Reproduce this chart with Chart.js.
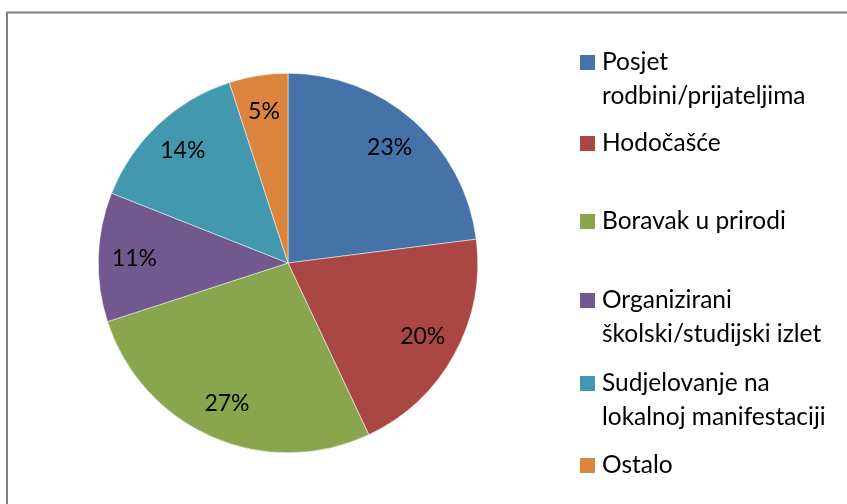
<!DOCTYPE html>
<html>
<head>
<meta charset="utf-8">
<script src="https://cdn.jsdelivr.net/npm/chart.js@4.4.1/dist/chart.umd.min.js"></script>
<style>
html,body{margin:0;padding:0;background:#fff;}
#wrap{position:relative;width:847px;height:504px;}
</style>
</head>
<body>
<div id="wrap"><canvas id="c" width="847" height="504"></canvas></div>
<script>
const categories = [
  ["Posjet", "rodbini/prijateljima"],
  ["Hodočašće"],
  ["Boravak u prirodi"],
  ["Organizirani", "školski/studijski izlet"],
  ["Sudjelovanje na", "lokalnoj manifestaciji"],
  ["Ostalo"]
];
const values = [23, 20, 27, 11, 14, 5];
const colors = ["#4572A7", "#AA4643", "#89A54E", "#71588F", "#4198AF", "#DB843D"];
const legendTops = [62, 143, 221, 300, 383, 465];

const FONT = "Lato, 'Open Sans', sans-serif";

const framePlugin = {
  id: 'frame',
  beforeDraw(chart) {
    const ctx = chart.ctx;
    ctx.save();
    ctx.fillStyle = '#fff';
    ctx.fillRect(0, 0, chart.width, chart.height);
    ctx.strokeStyle = '#808080';
    ctx.lineWidth = 2;
    ctx.beginPath();
    ctx.moveTo(7, chart.height);
    ctx.lineTo(7, 12.5);
    ctx.lineTo(chart.width, 12.5);
    ctx.stroke();
    ctx.restore();
  }
};

const labelPlugin = {
  id: 'sliceLabels',
  afterDatasetsDraw(chart) {
    const ctx = chart.ctx;
    const meta = chart.getDatasetMeta(0);
    const total = values.reduce((a, b) => a + b, 0);
    ctx.save();
    ctx.font = "23px " + FONT;
    ctx.fillStyle = '#000';
    ctx.textAlign = 'center';
    ctx.textBaseline = 'middle';
    meta.data.forEach((arc, i) => {
      const p = arc.getProps(['x', 'y', 'startAngle', 'endAngle', 'outerRadius'], true);
      const mid = (p.startAngle + p.endAngle) / 2;
      const r = p.outerRadius * 0.81;
      ctx.fillText(Math.round(values[i] / total * 100) + '%', p.x + Math.cos(mid) * r, p.y + Math.sin(mid) * r);
    });
    ctx.restore();
  }
};

const legendPlugin = {
  id: 'customLegend',
  afterDraw(chart) {
    const ctx = chart.ctx;
    ctx.save();
    ctx.font = "24.5px " + FONT;
    ctx.textBaseline = 'middle';
    categories.forEach((lines, i) => {
      const top = legendTops[i];
      ctx.fillStyle = colors[i];
      ctx.fillRect(580, top - 7, 15, 15);
      ctx.fillStyle = '#000';
      lines.forEach((t, j) => {
        ctx.fillText(t, 602, top + j * 34);
      });
    });
    ctx.restore();
  }
};

new Chart(document.getElementById('c'), {
  type: 'pie',
  data: {
    labels: categories.map(l => l.join(' ')),
    datasets: [{
      data: values,
      backgroundColor: colors,
      borderColor: '#ffffff',
      borderWidth: 0.5
    }]
  },
  options: {
    responsive: false,
    animation: false,
    layout: { padding: { left: 98, top: 73, right: 369, bottom: 51 } },
    plugins: {
      legend: { display: false },
      tooltip: { enabled: false }
    }
  },
  plugins: [framePlugin, labelPlugin, legendPlugin]
});
</script>
</body>
</html>
